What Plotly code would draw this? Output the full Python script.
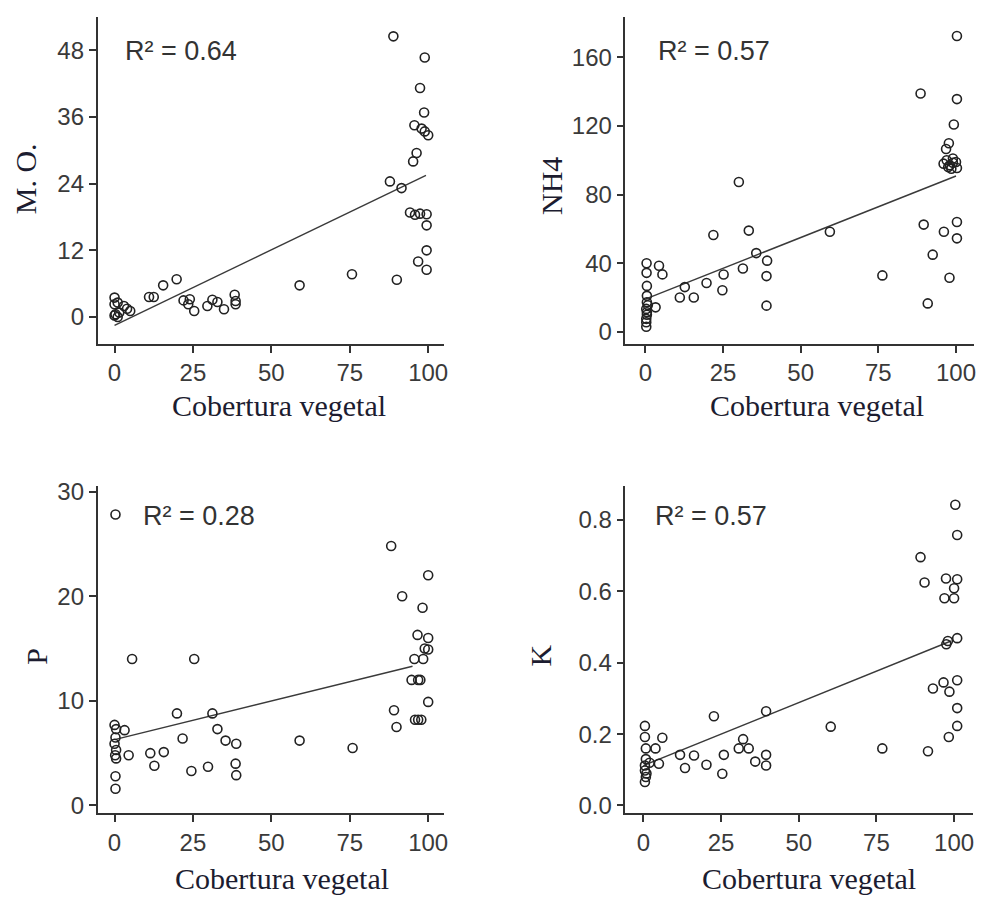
import plotly.graph_objects as go

W, H = 985, 904

# ---------------- data ----------------
mo_x = [0, 0, 1, 0.3, 0, 1.5, 3, 4, 5, 1,
        11, 12.5, 15.5, 19.8, 22, 24, 23.5, 25.4, 29.6, 31.2, 32.8, 34.9, 38.3, 38.6, 38.6, 59, 75.7,
        88.9, 98.9, 97.4, 98.7, 95.6, 97.9, 98.9, 100, 96.3, 95.2, 87.8, 91.5, 94.2, 95.8, 97.4, 99.5,
        99.5, 99.5, 96.8, 99.5, 90]
mo_y = [3.5, 2.3, 2.6, 0.5, 0.3, 0.8, 2.0, 1.5, 1.1, 0.0,
        3.6, 3.6, 5.7, 6.8, 3.0, 3.2, 2.3, 1.1, 2.0, 3.1, 2.7, 1.4, 4.0, 2.3, 2.9, 5.7, 7.7,
        50.5, 46.7, 41.2, 36.8, 34.5, 33.9, 33.4, 32.7, 29.5, 28.0, 24.4, 23.2, 18.8, 18.4, 18.6, 18.5,
        16.5, 12.0, 10.0, 8.5, 6.7]
mo_fit_x = [0, 99.3]
mo_fit_y = [-1.5, 25.5]

nh4_x = [0.4, 4.4, 0.4, 5.5, 0.5, 0.5, 0.5, 0.3, 3.3, 0.5, 0.5, 0.3, 0.3, 0.3, 0.8,
         11.1, 12.7, 15.6, 19.7, 21.9, 24.8, 25.2, 30.1, 31.4, 33.3, 35.7, 39.2, 39.0, 39.0, 59.4, 76.3,
         88.6, 100.3, 100.3, 99.3, 97.7, 96.8, 96, 97, 98, 99, 100, 98.5, 100.3, 97.5, 99,
         89.6, 100.3, 96.1, 100.3, 92.5, 97.9, 90.9]
nh4_y = [40, 38.5, 34.4, 33.5, 26.8, 21, 17.3, 13.4, 14.3, 11.4, 10, 7.6, 5.6, 3, 15.5,
         20, 26.1, 20, 28.5, 56.4, 24.3, 33.4, 87.3, 36.9, 59, 45.9, 41.5, 32.5, 15.3, 58.3, 32.9,
         138.9, 172.4, 135.6, 120.8, 109.9, 106.5, 98, 100, 97, 101, 99, 95, 95.5, 96, 98.5,
         62.5, 64, 58.3, 54.5, 45, 31.5, 16.6]
nh4_fit_x = [0, 100]
nh4_fit_y = [19.1, 90.8]

p_x = [0.3, 0, 0.5, 0.3, 0, 0.5, 0.2, 0.5, 0.3, 0.3, 3.2, 4.5, 5.6,
       11.4, 12.7, 15.7, 19.9, 21.7, 24.5, 25.4, 29.8, 31.2, 32.8, 35.4, 38.8, 38.6, 38.8, 59, 75.9,
       88.2, 100, 91.7, 98.2, 96.6, 100, 98.9, 100, 95.6, 98.4, 94.7, 96.8, 97.5, 100, 89.1, 89.9,
       95.8, 96.8, 97.8]
p_y = [27.8, 7.7, 7.3, 6.5, 5.9, 5.3, 4.8, 4.5, 2.8, 1.6, 7.2, 4.8, 14.0,
       5.0, 3.8, 5.1, 8.8, 6.4, 3.3, 14.0, 3.7, 8.8, 7.3, 6.2, 5.9, 4.0, 2.9, 6.2, 5.5,
       24.8, 22.0, 20.0, 18.9, 16.3, 16.0, 15.0, 14.9, 14.0, 14.0, 12.0, 12.0, 12.0, 9.9, 9.1, 7.5,
       8.2, 8.2, 8.2]
p_fit_x = [0, 95]
p_fit_y = [6.3, 13.3]

k_x = [0.5, 0.5, 0.8, 0.8, 0.5, 0.5, 0.8, 0.5, 2, 3.9, 5, 6.1, 1,
       11.8, 13.4, 16.3, 20.3, 22.7, 25.4, 25.9, 30.7, 32.1, 33.9, 36, 39.5, 39.5, 39.5, 60.3, 76.9,
       100.4, 101, 89.2, 90.5, 97.4, 101, 100, 96.9, 100, 101, 98, 97.5, 96.6, 93.2, 98.5, 101,
       101, 101, 98.3, 91.6]
k_y = [0.223, 0.192, 0.160, 0.130, 0.112, 0.098, 0.080, 0.066, 0.120, 0.160, 0.117, 0.190, 0.090,
       0.142, 0.105, 0.140, 0.114, 0.250, 0.089, 0.142, 0.160, 0.186, 0.160, 0.123, 0.142, 0.112, 0.264, 0.221, 0.160,
       0.843, 0.758, 0.696, 0.625, 0.636, 0.634, 0.609, 0.581, 0.581, 0.469, 0.461, 0.452, 0.345, 0.328, 0.319, 0.351,
       0.273, 0.223, 0.192, 0.152]
k_fit_x = [0, 99]
k_fit_y = [0.112, 0.461]

x_ticks = [0, 25, 50, 75, 100]
mo_ticks = [0, 12, 24, 36, 48]
nh4_ticks = [0, 40, 80, 120, 160]
p_ticks = [0, 10, 20, 30]
k_ticks = [0.0, 0.2, 0.4, 0.6, 0.8]

x_title = "Cobertura vegetal"
r2_labels = ["R² = 0.64", "R² = 0.57", "R² = 0.28", "R² = 0.57"]
y_titles = ["M. O.", "NH4", "P", "K"]

# ---------------- layout geometry (pixels) ----------------
panels = [
    dict(x=mo_x, y=mo_y, fx=mo_fit_x, fy=mo_fit_y, yt=mo_ticks, fmt=None,
         px=(98, 446), py=(8, 340), xr=[-5.4, 105.1], yr=[-4.8, 54.0],
         r2=(124, 43), yt_pos=(25, 172), xt_pos=(280, 403)),
    dict(x=nh4_x, y=nh4_y, fx=nh4_fit_x, fy=nh4_fit_y, yt=nh4_ticks, fmt=None,
         px=(628, 978), py=(8, 340), xr=[-6.4, 105.8], yr=[-6.9, 183.5],
         r2=(659, 43), yt_pos=(553, 180), xt_pos=(820, 403)),
    dict(x=p_x, y=p_y, fx=p_fit_x, fy=p_fit_y, yt=p_ticks, fmt=None,
         px=(98, 446), py=(485, 817), xr=[-5.4, 105.1], yr=[-0.75, 30.48],
         r2=(142, 515), yt_pos=(37, 657), xt_pos=(283, 883)),
    dict(x=k_x, y=k_y, fx=k_fit_x, fy=k_fit_y, yt=k_ticks, fmt=".1f",
         px=(628, 977), py=(485, 817), xr=[-5.77, 106.1], yr=[-0.022, 0.894],
         r2=(656, 515), yt_pos=(543, 657), xt_pos=(812, 883)),
]

fig = go.Figure()
layout = dict(
    width=W, height=H, margin=dict(l=0, r=0, t=0, b=0),
    paper_bgcolor="white", plot_bgcolor="white", showlegend=False,
)
annotations = []

axis_col = "#333333"
tick_font = dict(family="Liberation Sans, Arial, sans-serif", size=24, color="#3a3a3a")
title_font = dict(family="Liberation Serif, Times New Roman, serif", size=30, color="#1c1c30")

for i, p in enumerate(panels):
    s = "" if i == 0 else str(i + 1)
    xa, ya = "x" + s, "y" + s
    fig.add_trace(go.Scatter(
        x=p["fx"], y=p["fy"], mode="lines", xaxis=xa, yaxis=ya,
        line=dict(color="#3a3a3a", width=1.4), hoverinfo="skip"))
    fig.add_trace(go.Scatter(
        x=p["x"], y=p["y"], mode="markers", xaxis=xa, yaxis=ya,
        marker=dict(symbol="circle-open", size=9, color="#222222",
                    line=dict(width=1.6, color="#222222"))))
    x0, x1 = p["px"]
    y0, y1 = p["py"]
    layout["xaxis" + s] = dict(
        domain=[x0 / W, x1 / W], anchor=ya, range=p["xr"], tickvals=x_ticks,
        showline=True, linecolor=axis_col, linewidth=1.6, ticks="outside",
        ticklen=7, tickwidth=1.5, tickcolor=axis_col, showgrid=False,
        zeroline=False, tickfont=tick_font)
    ydict = dict(
        domain=[1 - y1 / H, 1 - y0 / H], anchor=xa, range=p["yr"], tickvals=p["yt"],
        showline=True, linecolor=axis_col, linewidth=1.6, ticks="outside",
        ticklen=7, tickwidth=1.5, tickcolor=axis_col, showgrid=False,
        zeroline=False, tickfont=tick_font)
    if p["fmt"]:
        ydict["tickformat"] = p["fmt"]
    layout["yaxis" + s] = ydict

    rx, ry = p["r2"]
    annotations.append(dict(
        text=r2_labels[i], xref="paper", yref="paper", x=rx / W, y=1 - ry / H,
        xanchor="left", yanchor="middle", showarrow=False,
        font=dict(family="Liberation Sans, Arial, sans-serif", size=27, color="#333333")))
    tx, ty = p["yt_pos"]
    annotations.append(dict(
        text=y_titles[i], xref="paper", yref="paper", x=tx / W, y=1 - ty / H,
        xanchor="center", yanchor="middle", textangle=-90, showarrow=False,
        font=title_font))
    cx, cy = p["xt_pos"]
    annotations.append(dict(
        text=x_title, xref="paper", yref="paper", x=cx / W, y=1 - cy / H,
        xanchor="center", yanchor="middle", showarrow=False, font=title_font))

layout["annotations"] = annotations
fig.update_layout(**layout)
fig.write_html("out.html", config={"displayModeBar": False},
               post_script="document.body.style.margin='0';document.body.style.overflow='hidden';")
